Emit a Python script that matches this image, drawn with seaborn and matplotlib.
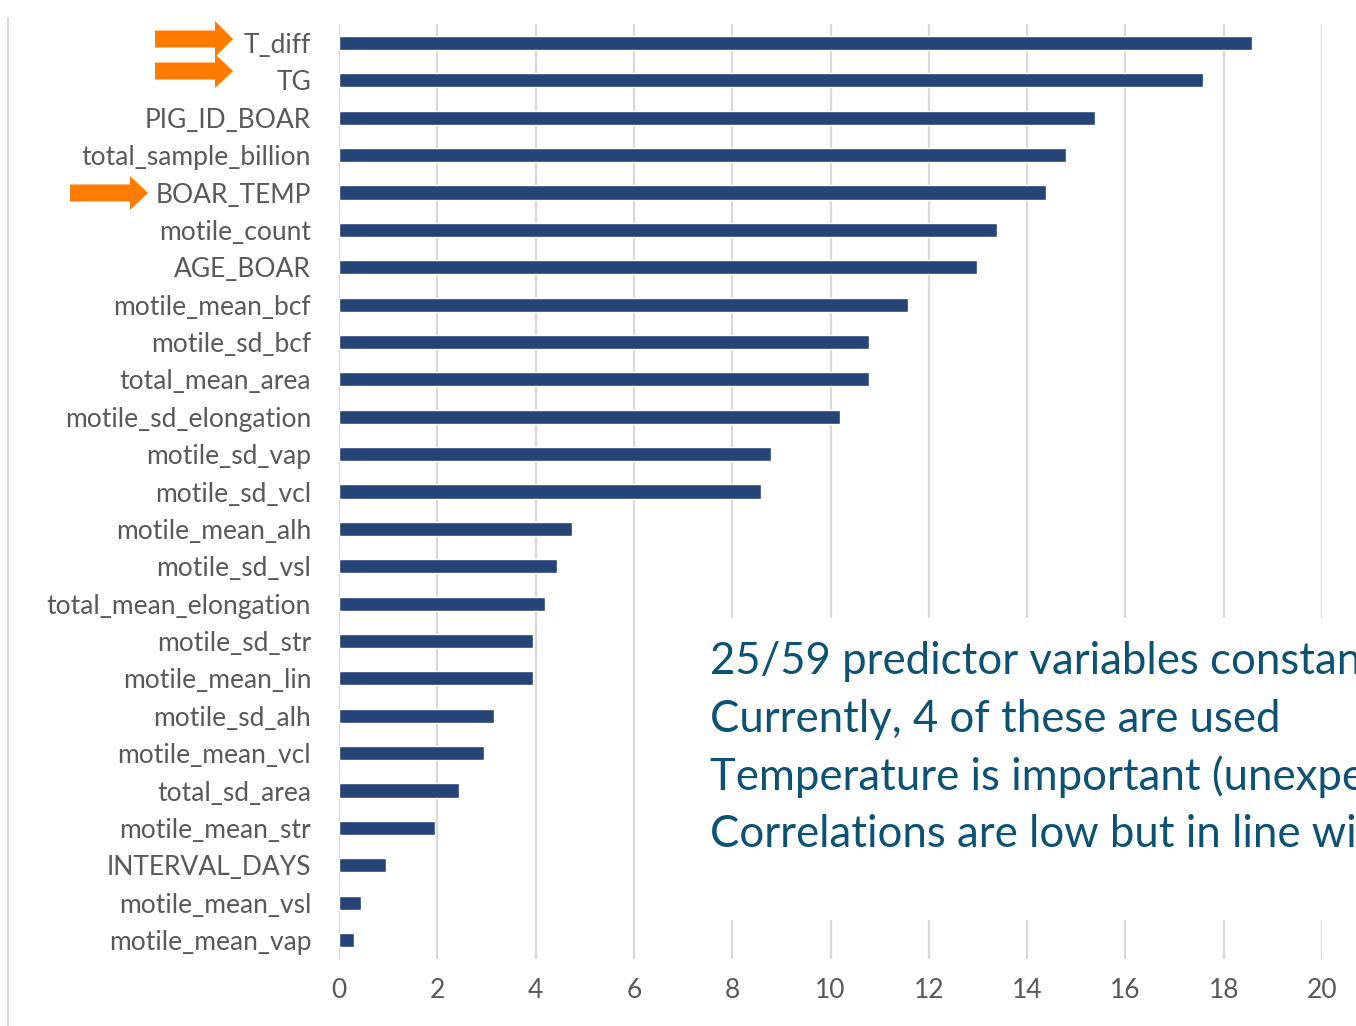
import matplotlib
matplotlib.use("Agg")
import matplotlib.pyplot as plt
import seaborn as sns
import pandas as pd
from matplotlib.patches import FancyArrow, Rectangle
from matplotlib.lines import Line2D

# Wartości
features = [
    "T_diff", "TG", "PIG_ID_BOAR", "total_sample_billion", "BOAR_TEMP",
    "motile_count", "AGE_BOAR", "motile_mean_bcf", "motile_sd_bcf",
    "total_mean_area", "motile_sd_elongation", "motile_sd_vap", "motile_sd_vcl",
    "motile_mean_alh", "motile_sd_vsl", "total_mean_elongation", "motile_sd_str",
    "motile_mean_lin", "motile_sd_alh", "motile_mean_vcl", "total_sd_area",
    "motile_mean_str", "INTERVAL_DAYS", "motile_mean_vsl", "motile_mean_vap",
]
importance = [
    18.58, 17.58, 15.38, 14.79, 14.38, 13.39, 12.98, 11.58, 10.78, 10.78,
    10.19, 8.79, 8.59, 4.74, 4.44, 4.19, 3.95, 3.95, 3.15, 2.95,
    2.44, 1.95, 0.96, 0.45, 0.31,
]
x_ticks = [0, 2, 4, 6, 8, 10, 12, 14, 16, 18, 20]
notes = [
    "25/59 predictor variables constant",
    "Currently, 4 of these are used",
    "Temperature is important (unexpected)",
    "Correlations are low but in line with literature",
]

df = pd.DataFrame({"feature": features, "importance": importance})

sns.set_style("white")
plt.rcParams["font.family"] = ["Lato", "DejaVu Sans"]

fig = plt.figure(figsize=(13.56, 10.26), dpi=100)
ax = fig.add_axes([0.25, 0.0656, 0.725, 0.9107])

sns.barplot(data=df, x="importance", y="feature", color="#264478",
            width=0.38, saturation=1, ax=ax, zorder=3)

ax.set_xlim(0, 20)
ax.set_ylim(len(features) - 0.5, -0.5)
ax.set_xticks(x_ticks)
ax.xaxis.grid(True, color="#d9d9d9", linewidth=1.6, zorder=0)
ax.set_axisbelow(True)
for s in ax.spines.values():
    s.set_visible(False)
ax.set_xlabel("")
ax.set_ylabel("")
ax.tick_params(axis="y", length=0, pad=20, labelsize=19, labelcolor="#595959")
ax.tick_params(axis="x", length=0, pad=14, labelsize=19, labelcolor="#595959")

# biały prostokąt pod tekstem (przerywa linie siatki)
ax.add_patch(Rectangle((0.367, 0.041), 0.7, 0.324, transform=ax.transAxes,
                       facecolor="white", edgecolor="none", zorder=4, clip_on=False))

for i, line in enumerate(notes):
    fig.text(710 / 1356, 1 - (662 + i * 57.5) / 1026, line, fontsize=31.5,
             color="#0b5275", va="center", ha="left")

# strzałki
def arrow(x0, x1, yc, head_start, shaft_h, head_h):
    t = fig.dpi_scale_trans
    a = FancyArrow(x0 / 100, (1026 - yc) / 100, (x1 - x0) / 100, 0,
                   width=shaft_h / 100, head_width=head_h / 100,
                   head_length=(x1 - head_start) / 100,
                   length_includes_head=True, transform=t,
                   facecolor="#ff7c00", edgecolor="none")
    fig.patches.append(a)

arrow(155, 233, 39, 215, 17, 36)
arrow(155, 233, 71, 215, 17, 34)
arrow(70, 148, 193, 130, 17, 34)

fig.lines.append(Line2D([8 / 1356, 8 / 1356], [0, 1 - 18 / 1026],
                        transform=fig.transFigure, color="#d9d9d9", linewidth=1.5))

plt.savefig("out.png", dpi=100)
